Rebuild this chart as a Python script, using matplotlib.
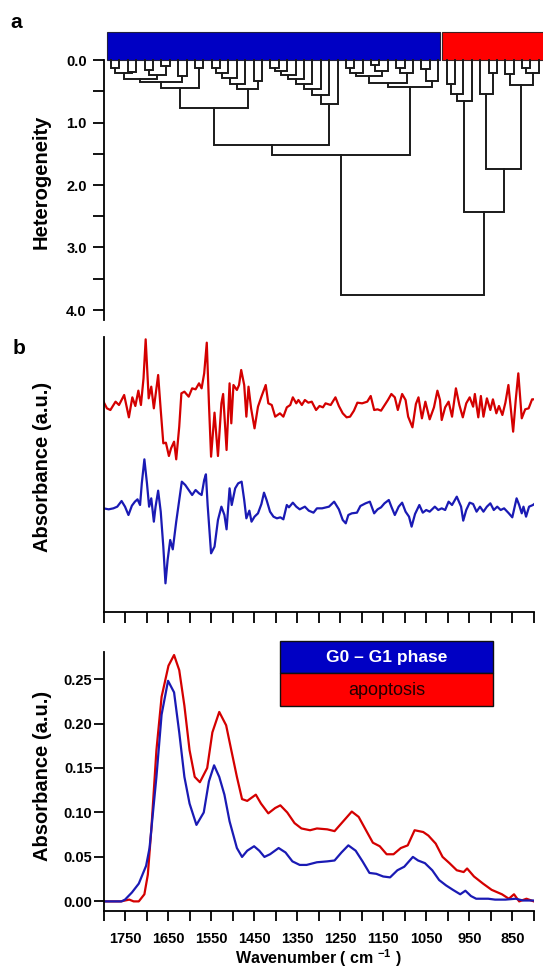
import numpy as np
import matplotlib
matplotlib.use("Agg")
import matplotlib.pyplot as plt
from matplotlib.patches import Rectangle

plt.rcParams['font.family'] = ['Liberation Sans', 'DejaVu Sans']
plt.rcParams['font.weight'] = 'bold'
plt.rcParams['mathtext.fontset'] = 'custom'
plt.rcParams['mathtext.rm'] = 'Liberation Sans:bold'
plt.rcParams['mathtext.bf'] = 'Liberation Sans:bold'

# ---- panel a : cluster tree (40 G0-G1 spectra, 12 apoptosis spectra shown) ----
n_leaves = 52
n_blue = 40
# (child a, child b, heterogeneity) ; ids >= n_leaves are earlier merges
merges = [
    (0, 1, 0.12), (2, 3, 0.19), (52, 53, 0.21), (4, 5, 0.16), (6, 7, 0.09),
    (55, 56, 0.24), (54, 57, 0.30), (8, 9, 0.26), (58, 59, 0.35), (10, 11, 0.13),
    (60, 61, 0.44), (12, 13, 0.13), (63, 14, 0.21), (64, 15, 0.29), (65, 16, 0.38),
    (17, 18, 0.33), (66, 67, 0.47), (19, 20, 0.13), (69, 21, 0.18), (70, 22, 0.24),
    (71, 23, 0.31), (72, 24, 0.38), (73, 25, 0.46), (74, 26, 0.56), (75, 27, 0.70),
    (28, 29, 0.12), (77, 30, 0.20), (31, 32, 0.08), (79, 33, 0.18), (78, 80, 0.26),
    (34, 35, 0.12), (82, 36, 0.20), (81, 83, 0.36), (37, 38, 0.15), (85, 39, 0.33),
    (84, 86, 0.43), (62, 68, 0.77), (88, 76, 1.36), (89, 87, 1.52), (40, 41, 0.39),
    (91, 42, 0.55), (92, 43, 0.65), (45, 46, 0.20), (44, 94, 0.55), (47, 48, 0.22),
    (49, 50, 0.12), (97, 51, 0.20), (96, 98, 0.40), (95, 99, 1.74), (93, 100, 2.43),
    (90, 101, 3.76),
]

# ---- panel b : second derivative spectra ----
wn_d2_red = [1800, 1792, 1784, 1772, 1764, 1752, 1741, 1733, 1726, 1719,
             1713, 1707, 1702, 1695, 1689, 1683, 1673, 1667, 1661, 1655,
             1648, 1643, 1636, 1631, 1624, 1619, 1612, 1602, 1594, 1586,
             1578, 1572, 1566, 1560, 1555, 1550, 1542, 1534, 1526, 1522,
             1514, 1507, 1503, 1498, 1490, 1485, 1480, 1473, 1468, 1463,
             1457, 1449, 1441, 1433, 1423, 1417, 1409, 1401, 1390, 1382,
             1374, 1366, 1360, 1352, 1347, 1339, 1332, 1324, 1316, 1306,
             1298, 1290, 1284, 1272, 1261, 1253, 1244, 1235, 1227, 1218,
             1210, 1199, 1187, 1179, 1171, 1163, 1155, 1147, 1139, 1131,
             1123, 1116, 1106, 1098, 1092, 1082, 1074, 1068, 1060, 1052,
             1042, 1032, 1024, 1018, 1014, 1006, 998, 990, 981, 973,
             965, 957, 949, 941, 937, 929, 923, 917, 909, 901,
             895, 887, 881, 873, 866, 859, 848, 842, 836, 828,
             820, 812, 804, 800]
d2_red = [0.00, -0.20, -0.25, 0.00, -0.10, 0.20, -0.47, 0.13, -0.13, 0.33,
          -0.10, 0.70, 1.87, 0.10, 0.45, -0.20, 0.80, -0.25, -1.25, -1.23,
          -1.63, -1.40, -1.20, -1.73, -0.75, 0.25, 0.30, 0.15, 0.40, 0.37,
          0.55, 0.40, 0.85, 1.77, -0.05, -1.65, -0.33, -1.63, -0.05, 0.23,
          -1.45, 0.55, -0.65, 0.50, 0.35, 0.50, 0.95, 0.50, -0.45, 0.45,
          -0.20, -0.80, -0.15, 0.15, 0.50, -0.05, -0.10, -0.45, -0.35, -0.45,
          -0.17, -0.10, 0.13, -0.05, 0.05, -0.10, 0.05, -0.03, 0.00, -0.25,
          -0.13, -0.17, -0.05, -0.10, 0.13, -0.13, -0.35, -0.47, -0.45, -0.27,
          -0.03, -0.05, 0.00, 0.17, -0.25, -0.23, -0.27, -0.11, 0.05, 0.23,
          0.13, -0.25, 0.23, 0.05, -0.45, -0.77, -0.07, 0.13, -0.50, 0.00,
          -0.53, -0.17, 0.33, 0.05, -0.55, -0.17, 0.00, -0.45, 0.40, -0.10,
          -0.47, -0.05, 0.13, -0.15, 0.23, -0.47, 0.17, -0.45, 0.10, -0.25,
          0.07, -0.35, -0.13, -0.40, -0.03, 0.50, -0.90, 0.05, 0.85, -0.50,
          -0.23, -0.20, 0.07, 0.07]

wn_d2_blue = [1800, 1788, 1777, 1768, 1758, 1750, 1742, 1734, 1727, 1721,
              1715, 1711, 1705, 1699, 1694, 1689, 1683, 1679, 1673, 1667,
              1661, 1656, 1651, 1645, 1639, 1631, 1624, 1618, 1610, 1602,
              1594, 1586, 1578, 1572, 1566, 1562, 1558, 1550, 1542, 1534,
              1526, 1519, 1514, 1507, 1502, 1494, 1487, 1479, 1473, 1468,
              1461, 1456, 1449, 1441, 1433, 1427, 1421, 1413, 1405, 1397,
              1389, 1382, 1374, 1369, 1360, 1352, 1344, 1332, 1323, 1312,
              1304, 1292, 1276, 1264, 1253, 1244, 1237, 1231, 1223, 1211,
              1203, 1191, 1181, 1171, 1163, 1155, 1147, 1137, 1131, 1123,
              1114, 1106, 1098, 1090, 1084, 1076, 1066, 1058, 1050, 1042,
              1030, 1022, 1014, 1006, 998, 990, 979, 969, 964, 957,
              949, 941, 933, 925, 917, 909, 901, 893, 885, 877,
              869, 858, 850, 840, 834, 828, 824, 818, 811, 802,
              800]
d2_blue = [0.00, -0.03, 0.00, 0.05, 0.22, 0.05, -0.20, 0.08, 0.20, 0.27,
           0.10, 0.75, 1.47, 0.75, 0.05, 0.30, -0.40, 0.05, 0.53, -0.10,
           -1.15, -2.25, -1.55, -0.95, -1.23, -0.40, 0.25, 0.80, 0.70, 0.55,
           0.40, 0.55, 0.45, 0.40, 0.85, 1.02, 0.10, -1.35, -1.15, -0.35,
           0.05, -0.20, -0.63, 0.60, 0.10, 0.60, 0.75, 0.80, 0.25, -0.30,
           -0.07, -0.40, -0.25, -0.15, 0.13, 0.47, 0.25, -0.10, -0.25, -0.30,
           -0.27, -0.33, 0.10, 0.03, 0.17, 0.05, -0.03, 0.05, -0.07, -0.13,
           0.00, 0.00, 0.05, 0.20, -0.03, -0.35, -0.45, -0.20, -0.15, -0.13,
           0.07, 0.15, 0.20, -0.15, -0.03, 0.03, 0.15, 0.25, 0.05, -0.20,
           0.05, 0.17, -0.10, -0.25, -0.55, -0.17, 0.10, -0.13, -0.05, -0.10,
           0.05, -0.05, 0.00, -0.05, 0.20, 0.10, 0.35, 0.05, -0.37, -0.05,
           0.17, 0.13, -0.10, 0.05, -0.10, 0.05, 0.15, -0.05, 0.05, -0.05,
           0.00, -0.15, -0.27, 0.30, 0.10, -0.15, 0.05, -0.25, 0.05, 0.10,
           0.12]
red_offset = 3.2

# ---- panel c : mean absorbance spectra ----
wn_blue = [1800, 1758, 1750, 1734, 1718, 1701, 1693, 1685, 1677, 1665,
           1650, 1636, 1624, 1612, 1600, 1584, 1567, 1555, 1543, 1531,
           1519, 1507, 1490, 1478, 1466, 1450, 1438, 1426, 1413, 1393,
           1377, 1361, 1344, 1328, 1304, 1280, 1263, 1247, 1231, 1214,
           1198, 1182, 1166, 1150, 1134, 1117, 1101, 1081, 1069, 1053,
           1036, 1020, 1004, 988, 971, 959, 946, 934, 906, 890,
           866, 842, 825, 800]
abs_blue = [0.000, 0.000, 0.002, 0.010, 0.020, 0.040, 0.060, 0.100, 0.140, 0.210,
            0.248, 0.235, 0.190, 0.140, 0.110, 0.086, 0.100, 0.135, 0.153, 0.140,
            0.120, 0.090, 0.060, 0.050, 0.057, 0.062, 0.057, 0.050, 0.053, 0.060,
            0.055, 0.045, 0.041, 0.041, 0.044, 0.045, 0.046, 0.055, 0.063, 0.057,
            0.045, 0.032, 0.031, 0.028, 0.027, 0.035, 0.039, 0.050, 0.046, 0.043,
            0.035, 0.024, 0.018, 0.013, 0.008, 0.012, 0.006, 0.003, 0.003, 0.002,
            0.002, 0.003, 0.001, 0.001]
wn_red = [1800, 1760, 1740, 1730, 1718, 1705, 1697, 1689, 1677, 1665,
          1649, 1636, 1624, 1612, 1600, 1588, 1576, 1559, 1547, 1531,
          1515, 1503, 1490, 1478, 1466, 1446, 1434, 1417, 1401, 1389,
          1373, 1356, 1340, 1320, 1304, 1280, 1263, 1243, 1223, 1207,
          1190, 1174, 1158, 1142, 1126, 1109, 1093, 1077, 1057, 1045,
          1028, 1012, 996, 979, 963, 955, 939, 918, 898, 874,
          858, 846, 834, 817, 800]
abs_red = [0.000, 0.000, 0.002, 0.000, 0.000, 0.008, 0.030, 0.080, 0.170, 0.230,
           0.265, 0.277, 0.260, 0.220, 0.170, 0.140, 0.134, 0.150, 0.190, 0.213,
           0.198, 0.170, 0.140, 0.115, 0.113, 0.120, 0.110, 0.099, 0.105, 0.108,
           0.100, 0.088, 0.082, 0.080, 0.082, 0.081, 0.079, 0.090, 0.101, 0.095,
           0.080, 0.066, 0.062, 0.053, 0.053, 0.060, 0.063, 0.080, 0.078, 0.074,
           0.065, 0.050, 0.043, 0.035, 0.033, 0.037, 0.028, 0.020, 0.013, 0.008,
           0.003, 0.008, 0.000, 0.003, 0.000]

legend_labels = ['G0 \u2013 G1 phase', 'apoptosis']

blue_bar = '#0000c4'
red_bar = '#ff0000'
blue_line = '#1a1ab4'
red_line = '#d40000'

W, H = 543, 972
fig = plt.figure(figsize=(W / 100, H / 100), dpi=100)

def box(l, t, r, b):
    return [l / W, 1 - b / H, (r - l) / W, (b - t) / H]

# ---------------- panel a ----------------
ax1 = fig.add_axes(box(103.5, 60, 543, 320))
pos = {i: float(i) for i in range(n_leaves)}
hgt = {i: 0.0 for i in range(n_leaves)}
for k, (a, b, h) in enumerate(merges):
    ax1.plot([pos[a], pos[a], pos[b], pos[b]], [hgt[a], h, h, hgt[b]],
             color='#1a1a1a', lw=1.4, solid_joinstyle='miter', clip_on=False)
    pos[n_leaves + k] = (pos[a] + pos[b]) / 2
    hgt[n_leaves + k] = h
ax1.set_xlim(-0.894, 51.49)
ax1.set_ylim(4.16, 0)
ax1.add_patch(Rectangle((-0.44, -0.455), 39.7, 0.455, facecolor=blue_bar,
                        edgecolor='#202040', lw=0.8, clip_on=False))
ax1.add_patch(Rectangle((39.51, -0.455), 14, 0.455, facecolor=red_bar,
                        edgecolor='#402020', lw=0.8, clip_on=False))
for s in ['top', 'right', 'bottom']:
    ax1.spines[s].set_visible(False)
ax1.spines['left'].set_linewidth(1.3)
ax1.set_xticks([])
ax1.set_yticks([0, 1, 2, 3, 4])
ax1.set_yticklabels(['0.0', '1.0', '2.0', '3.0', '4.0'])
ax1.set_yticks(np.arange(0.5, 4, 1.0), minor=True)
ax1.tick_params(axis='y', which='both', direction='out', length=8, width=1.3,
                labelsize=10.5, pad=4)

# ---------------- panel b ----------------
ax2 = fig.add_axes(box(103.5, 337, 533.8, 612))
ax2.plot(wn_d2_red, np.array(d2_red) + red_offset, color=red_line, lw=1.6)
ax2.plot(wn_d2_blue, d2_blue, color=blue_line, lw=1.6)
ax2.set_xlim(1800, 800)
ax2.set_ylim(-3.11, 5.14)
for s in ['top', 'right']:
    ax2.spines[s].set_visible(False)
for s in ['left', 'bottom']:
    ax2.spines[s].set_linewidth(1.3)
ax2.set_yticks([])
ax2.set_xticks(np.arange(800, 1801, 50))
ax2.set_xticklabels([])
ax2.tick_params(axis='x', direction='out', length=8, width=1.3)

# ---------------- panel c ----------------
ax3 = fig.add_axes(box(103.5, 652, 533.8, 911))
ax3.plot(wn_red, abs_red, color=red_line, lw=1.6)
ax3.plot(wn_blue, abs_blue, color=blue_line, lw=1.6)
ax3.set_xlim(1800, 800)
ax3.set_ylim(-0.0108, 0.2804)
for s in ['top', 'right']:
    ax3.spines[s].set_visible(False)
for s in ['left', 'bottom']:
    ax3.spines[s].set_linewidth(1.3)
ax3.set_xticks(np.arange(850, 1751, 100))
ax3.set_xticks(np.arange(800, 1801, 100), minor=True)
ax3.set_yticks(np.arange(0, 0.26, 0.05))
ax3.set_yticklabels(['%.2f' % v for v in np.arange(0, 0.26, 0.05)])
ax3.tick_params(axis='both', which='both', direction='out', length=7, width=1.3,
                labelsize=10.5)
ax3.tick_params(axis='x', pad=8)
ax3.tick_params(axis='y', pad=1)

# legend boxes
fig.add_artist(Rectangle((280 / W, 1 - 672.7 / H), 213 / W, 32 / H,
                         transform=fig.transFigure, facecolor=blue_bar,
                         edgecolor='#101010', lw=1.0))
fig.add_artist(Rectangle((280 / W, 1 - 705.7 / H), 213 / W, 33 / H,
                         transform=fig.transFigure, facecolor=red_bar,
                         edgecolor='#101010', lw=1.0))
fig.text(386.5 / W, 1 - 657.5 / H, legend_labels[0], color='white',
         fontsize=12.5, fontweight='bold', ha='center', va='center')
fig.text(386.5 / W, 1 - 690 / H, legend_labels[1], color='#200000',
         fontsize=13, fontweight='normal', ha='center', va='center')

# axis titles and panel letters
fig.text(41.5 / W, 1 - 182 / H, 'Heterogeneity', rotation=90, fontsize=14.5,
         ha='center', va='center')
fig.text(43 / W, 1 - 467 / H, 'Absorbance (a.u.)', rotation=90, fontsize=14.5,
         ha='center', va='center')
fig.text(43 / W, 1 - 776 / H, 'Absorbance (a.u.)', rotation=90, fontsize=14.5,
         ha='center', va='center')
fig.text(318.5 / W, 1 - 958 / H, r'Wavenumber ( cm $^{-1}$ )', fontsize=11.5,
         ha='center', va='center')
fig.text(16 / W, 1 - 23 / H, 'a', fontsize=15, ha='center', va='center')
fig.text(19 / W, 1 - 348 / H, 'b', fontsize=15, ha='center', va='center')

fig.savefig('out.png', dpi=100)
